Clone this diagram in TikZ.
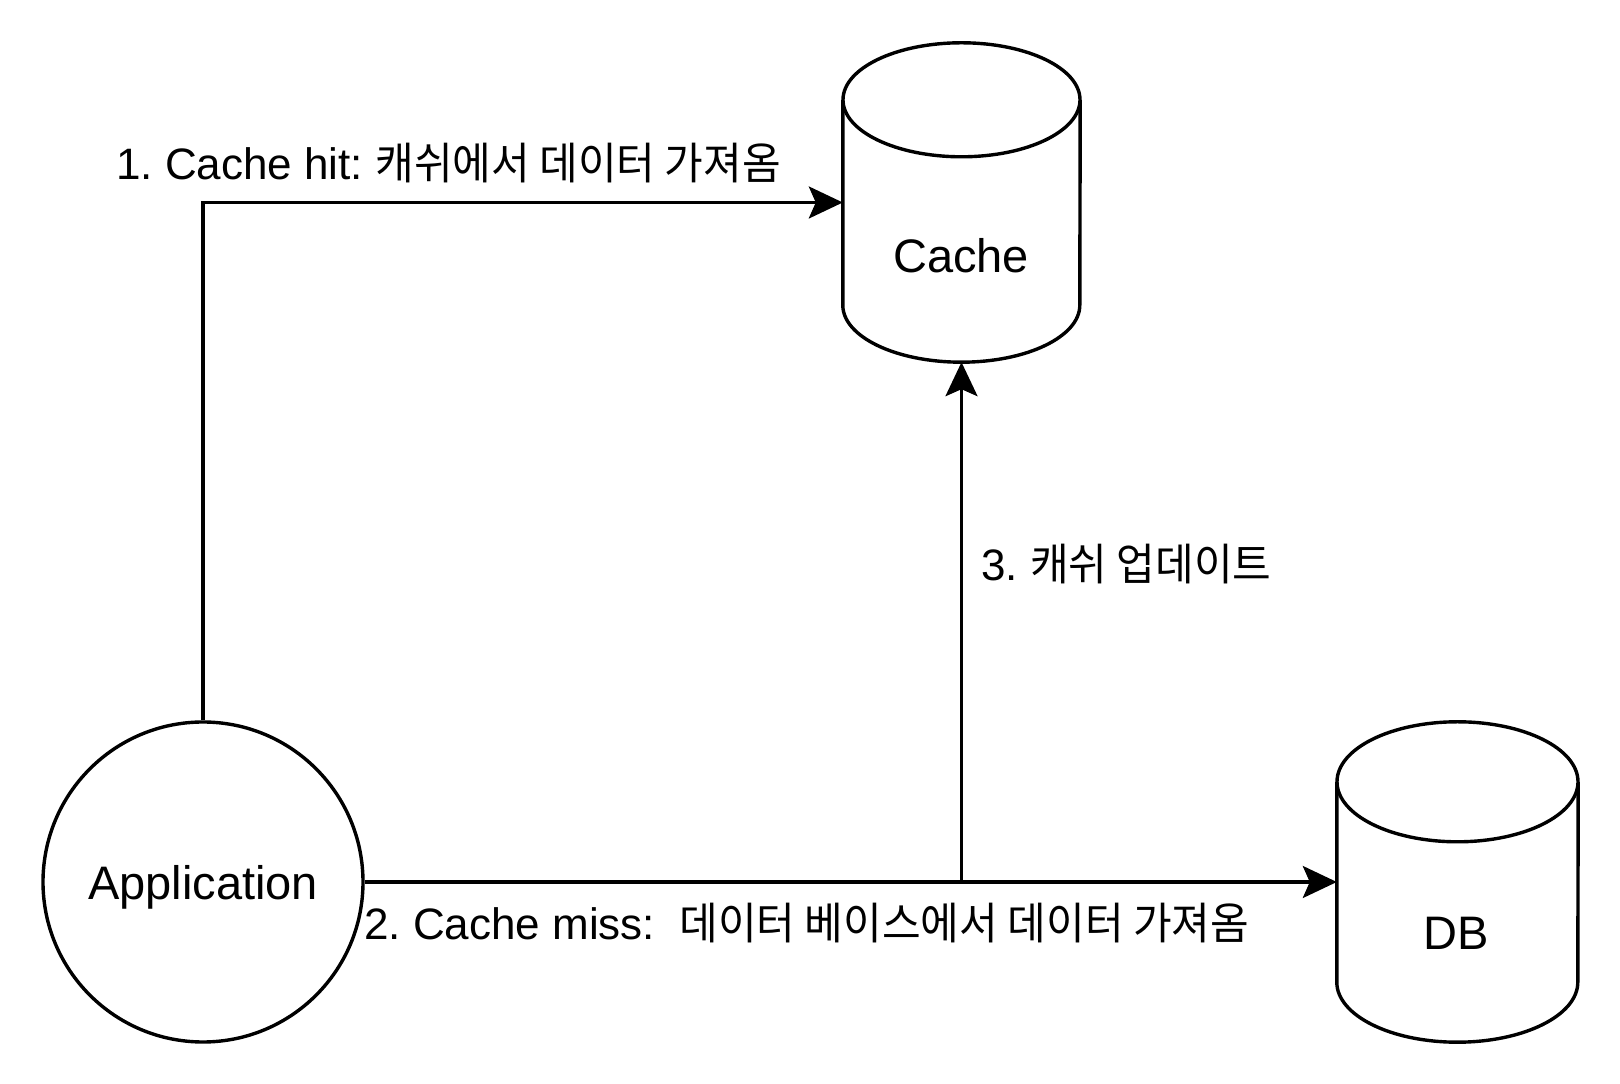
\documentclass[tikz,border=0pt]{standalone}
\usepackage{fontspec}
\setmainfont{Liberation Sans}
\newfontfamily\krfont[FakeStretch=0.955]{Noto Sans CJK KR}
\usetikzlibrary{arrows.meta,calc}
\frenchspacing
\tikzset{
 conn/.style={line width=3.2pt, -{Stealth[length=34pt,width=32pt,inset=7pt]}},
 outline/.style={line width=3.4pt, fill=white},
 lbl/.style={anchor=base west, inner sep=0pt, font=\fontsize{44}{50}\selectfont},
 nodetxt/.style={anchor=base, inner sep=0pt, font=\fontsize{47}{54}\selectfont},
 cylbox/.style={rectangle, inner sep=0pt, draw=none},
}
\begin{document}
\begin{tikzpicture}[x=1pt,y=1pt]
\fill[white] (0,0) rectangle (1620,1084);
\useasboundingbox (0,0) rectangle (1620,1084);

% Cache cylinder
\node[cylbox, minimum width=237pt, minimum height=319pt] (cache) at (961.5,881.5) {};
\draw[outline] ($(cache.north west)+(0,-57)$) -- ($(cache.south west)+(0,57)$)
  arc[start angle=180,end angle=360,x radius=118.5,y radius=57]
  -- ($(cache.north east)+(0,-57)$);
\draw[outline] ($(cache.north)+(0,-57)$) ellipse[x radius=118.5,y radius=57];
\node[nodetxt] (cachetxt) at (961,811) {Cache};

% DB cylinder
\node[cylbox, minimum width=241pt, minimum height=320pt] (db) at (1457.5,202) {};
\draw[outline] ($(db.north west)+(0,-60)$) -- ($(db.south west)+(0,60)$)
  arc[start angle=180,end angle=360,x radius=120.5,y radius=60]
  -- ($(db.north east)+(0,-60)$);
\draw[outline] ($(db.north)+(0,-60)$) ellipse[x radius=120.5,y radius=60];
\node[nodetxt] (dbtxt) at (1456,134) {DB};

% Application
\node[circle, draw, line width=3.4pt, minimum size=320pt, inner sep=0pt, text depth=0pt,
      font=\fontsize{47}{54}\selectfont] (app) at (203,202) {Application};

% connectors
\draw[conn] (app.north) |- (cache.west);
\draw[conn] (app.east) -- (db.west);
\coordinate (j) at (cache.south |- app.east);
\draw[conn] (j) -- (cache.south);

% labels
\node[lbl] (l1) at (116,904) {1. Cache hit: {\krfont 캐쉬에서 데이터 가져옴}};
\node[lbl] (l2) at (364,144) {2. Cache miss:\ \ {\krfont 데이터 베이스에서 데이터 가져옴}};
\node[lbl] (l3) at (981,503) {3. {\krfont 캐쉬 업데이트}};
\end{tikzpicture}
\end{document}
